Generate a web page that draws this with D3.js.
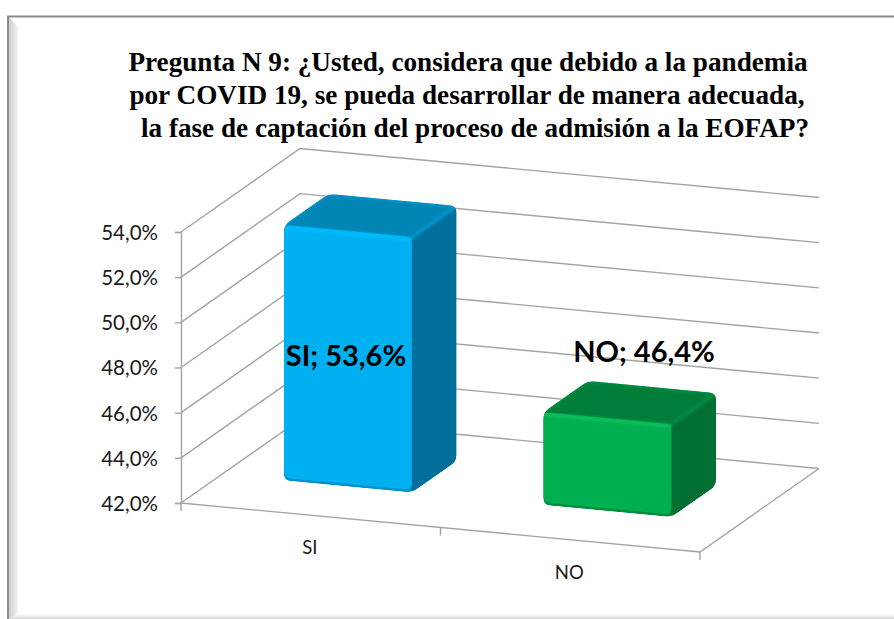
<!DOCTYPE html>
<html lang="es">

<head>
    <meta charset="UTF-8">
    <title>Pregunta N 9</title>
    <style>
        html, body { margin: 0; padding: 0; background: #fff; }
        svg { display: block; }
    </style>
</head>

<body>
    <script src="https://cdn.jsdelivr.net/npm/d3@7"></script>
    <script>
        const categories = ['SI', 'NO'];
        const values = [53.6, 46.4];
        const value_labels = ['SI; 53,6%', 'NO; 46,4%'];
        const y_ticks = [42, 44, 46, 48, 50, 52, 54];
        const title_lines = [
            'Pregunta N 9: ¿Usted, considera que debido a la pandemia',
            'por COVID 19, se pueda desarrollar de manera adecuada,',
            'la fase de captación del proceso de admisión a la EOFAP?'
        ];
        const bar_colors = [
            { front: '#00b0f0', edge: '#00bbfb', low: '#0093c9', top: '#0085b5', side: '#006f9c', ridge: '#0093c8' },
            { front: '#00b050', edge: '#0abc5c', low: '#008f3f', top: '#007e39', side: '#006f32', ridge: '#008c40' }
        ];

        const svg_w = 894;
        const svg_h = 619;

        const svg = d3.select('body')
            .append('svg')
            .attr('width', svg_w)
            .attr('height', svg_h)
            .style('font-family', 'Lato, sans-serif');

        const defs = svg.append('defs');
        const leftBevel = defs.append('linearGradient').attr('id', 'left_bevel');
        leftBevel.append('stop').attr('offset', '0%').attr('stop-color', '#cfcfcf');
        leftBevel.append('stop').attr('offset', '100%').attr('stop-color', '#f4f4f4');
        const bottomBevel = defs.append('linearGradient').attr('id', 'bottom_bevel').attr('x2', 0).attr('y2', 1);
        bottomBevel.append('stop').attr('offset', '0%').attr('stop-color', '#ffffff');
        bottomBevel.append('stop').attr('offset', '100%').attr('stop-color', '#d6d6d6');
        defs.append('filter').attr('id', 'soft')
            .append('feGaussianBlur').attr('stdDeviation', 1.3);

        // frame of the chart area, bevels meet on a diagonal at the corners
        svg.append('path').attr('d', 'M9,17L18,27V614L9,619Z').attr('fill', 'url(#left_bevel)');
        svg.append('path').attr('d', `M18,614H${svg_w}V619H9Z`).attr('fill', 'url(#bottom_bevel)');
        svg.append('path')
            .attr('d', `M8,${svg_h}V16.5H${svg_w}`)
            .attr('fill', 'none')
            .attr('stroke', '#8c8c8c')
            .attr('stroke-width', 2);

        // scales, the category axis runs along the front edge of the floor
        const y = d3.scaleLinear().domain([42, 54]).range([503, 232]);
        const x = d3.scaleBand().domain(categories).range([0, 519]).paddingInner(0.507).paddingOuter(0.2535);
        const origin_x = 181;
        const floor_slope = 49 / 519;
        const depth_x = 119;
        const depth_y = -83.5;

        // position along the floor (px), value, depth 0 to 1
        const project = (along, value, depth) => [
            origin_x + along + depth_x * depth,
            y(value) + along * floor_slope + depth_y * depth
        ];
        const pts = list => d3.line()(list);

        const walls = svg.append('g')
            .attr('fill', 'none')
            .attr('stroke', '#a3a3a3')
            .attr('stroke-width', 1.4);

        walls.selectAll('path.grid')
            .data(y_ticks)
            .enter()
            .append('path')
            .attr('class', 'grid')
            .attr('d', d => pts([project(0, d, 0), project(0, d, 1), project(519, d, 1)]));

        walls.append('path')
            .attr('d', pts([project(0, 42, 0), project(519, 42, 0), project(519, 42, 1)]));

        // value axis
        const yAxis = svg.append('g')
            .attr('transform', `translate(${origin_x},0)`)
            .call(d3.axisLeft(y).tickValues(y_ticks).tickSize(6).tickPadding(17)
                .tickFormat(d => d3.format('.1f')(d).replace('.', ',') + '%'));
        yAxis.select('.domain').attr('stroke', '#a3a3a3').attr('stroke-width', 1.4);
        yAxis.selectAll('.tick line').attr('stroke', '#a3a3a3').attr('stroke-width', 1.4);
        yAxis.selectAll('.tick text')
            .attr('font-family', 'Lato, sans-serif')
            .attr('font-size', 20.5)
            .attr('dy', '0.36em')
            .attr('fill', '#1a1a1a');

        // category axis ticks and labels
        svg.append('g').selectAll('line')
            .data([0, 259.5, 519])
            .enter()
            .append('line')
            .attr('x1', d => project(d, 42, 0)[0])
            .attr('x2', d => project(d, 42, 0)[0])
            .attr('y1', d => project(d, 42, 0)[1])
            .attr('y2', d => project(d, 42, 0)[1] + 8)
            .attr('stroke', '#a3a3a3')
            .attr('stroke-width', 1.4);

        svg.append('g').selectAll('text')
            .data(categories)
            .enter()
            .append('text')
            .text(d => d)
            .attr('x', d => project(x(d) + x.bandwidth() / 2, 42, 0)[0] - 1)
            .attr('y', d => project(x(d) + x.bandwidth() / 2, 42, 0)[1] + 39)
            .attr('text-anchor', 'middle')
            .attr('font-size', 18.5)
            .attr('fill', '#1a1a1a');

        // bars
        const bar_base = 42.3;
        const d_front = 0.27;
        const d_back = 0.645;
        const bar_shift = 5;

        const rounded = (list, r) => {
            const p = d3.path();
            list.forEach((c, i) => {
                const prev = list[(i + list.length - 1) % list.length];
                const next = list[(i + 1) % list.length];
                const toward = (a, b, len) => {
                    const l = Math.hypot(b[0] - a[0], b[1] - a[1]);
                    return [a[0] + (b[0] - a[0]) * len / l, a[1] + (b[1] - a[1]) * len / l];
                };
                const s = toward(c, prev, r);
                const e = toward(c, next, r);
                if (i === 0) p.moveTo(s[0], s[1]); else p.lineTo(s[0], s[1]);
                p.quadraticCurveTo(c[0], c[1], e[0], e[1]);
            });
            p.closePath();
            return p.toString();
        };

        categories.forEach((cat, i) => {
            const a = x(cat) + bar_shift;
            const b = a + x.bandwidth();
            const v = values[i];
            const c = bar_colors[i];
            const g = svg.append('g').attr('class', 'bar');

            const fl = project(a, v, d_front), fr = project(b, v, d_front);
            const bl = project(a, v, d_back), br = project(b, v, d_back);
            const fl0 = project(a, bar_base, d_front), fr0 = project(b, bar_base, d_front);
            const br0 = project(b, bar_base, d_back);

            const clip = defs.append('clipPath').attr('id', 'bar_clip_' + i);
            clip.append('path').attr('d', rounded([bl, br, br0, fr0, fl0, fl], 7));

            const inner = g.append('g').attr('clip-path', `url(#bar_clip_${i})`);
            inner.append('path').attr('d', pts([bl, br, br0, fr0, fl0, fl]) + 'Z').attr('fill', c.top);
            // side face
            inner.append('path').attr('d', pts([fr, br, br0, fr0]) + 'Z').attr('fill', c.side);
            // ridge between top and side, and a lighter band on top of the front face
            inner.append('path').attr('d', pts([fr, br]))
                .attr('stroke', c.ridge).attr('stroke-width', 4).attr('fill', 'none').attr('filter', 'url(#soft)');
            inner.append('path').attr('d', pts([bl, br]))
                .attr('stroke', c.ridge).attr('stroke-width', 4).attr('fill', 'none').attr('filter', 'url(#soft)');
            inner.append('path').attr('d', pts([fl, bl]))
                .attr('stroke', c.ridge).attr('stroke-width', 4).attr('fill', 'none').attr('filter', 'url(#soft)');
            // front face
            inner.append('path').attr('d', rounded([fl, fr, fr0, fl0], 7)).attr('fill', c.low);
            inner.append('path')
                .attr('d', rounded([
                    [fl[0], fl[1]],
                    [fr[0], fr[1]],
                    [fr0[0], fr0[1] - 2.5],
                    [fl0[0], fl0[1] - 2.5]
                ], 7))
                .attr('fill', c.front);
            inner.append('path').attr('d', pts([[fr[0] - 2, fr[1]], [fr0[0] - 2, fr0[1]]]))
                .attr('stroke', c.edge).attr('stroke-width', 4).attr('fill', 'none').attr('filter', 'url(#soft)');
            inner.append('path').attr('d', pts([[fl[0], fl[1] + 2], [fr[0], fr[1] + 2]]))
                .attr('stroke', c.edge).attr('stroke-width', 4).attr('fill', 'none').attr('filter', 'url(#soft)');
        });

        // data labels
        const label_anchor = [[346, 366], [644, 362]];
        svg.append('g').selectAll('text')
            .data(value_labels)
            .enter()
            .append('text')
            .text(d => d)
            .attr('x', (d, i) => label_anchor[i][0])
            .attr('y', (d, i) => label_anchor[i][1])
            .attr('text-anchor', 'middle')
            .attr('font-size', 29)
            .attr('font-weight', 'bold')
            .attr('fill', '#000');

        // title, the original lines are not quite centred on each other
        const title_x = [468, 467, 475];
        svg.append('g').selectAll('text')
            .data(title_lines)
            .enter()
            .append('text')
            .text(d => d)
            .attr('x', (d, i) => title_x[i])
            .attr('y', (d, i) => 71 + i * 33)
            .attr('text-anchor', 'middle')
            .attr('font-family', '"Liberation Serif", serif')
            .attr('font-size', 27.2)
            .attr('font-weight', 'bold')
            .attr('fill', '#000');
    </script>
</body>

</html>
